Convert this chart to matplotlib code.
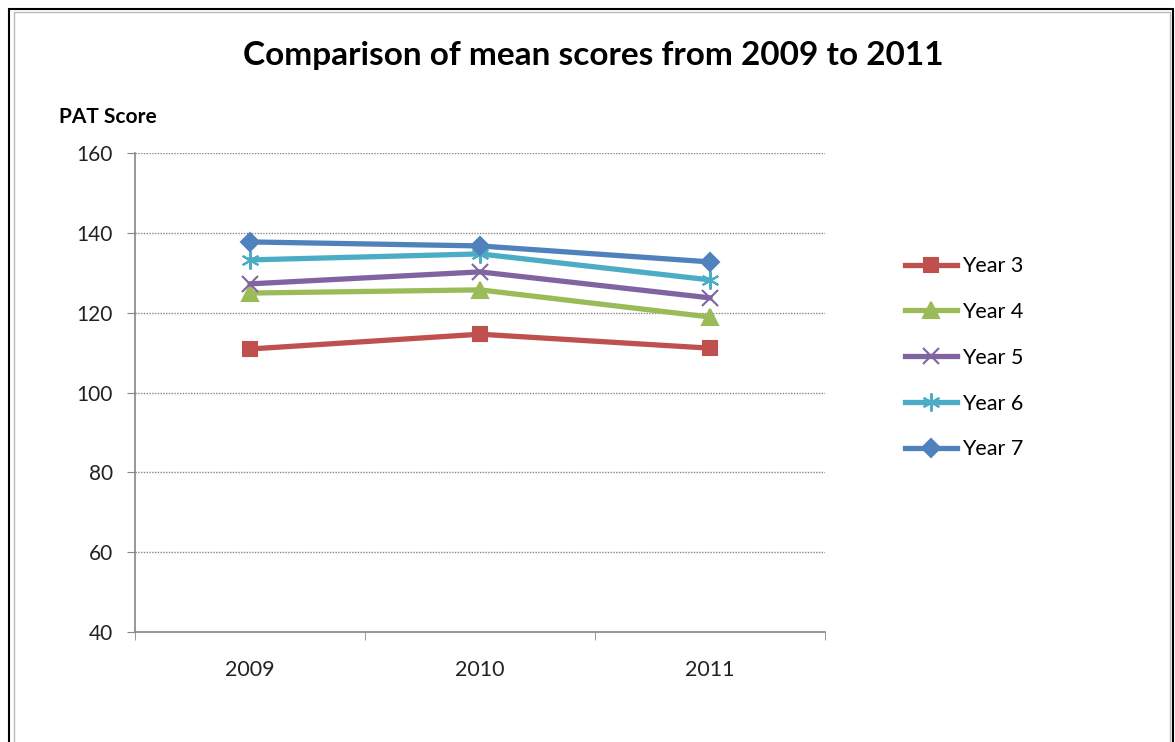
import matplotlib.pyplot as plt
from matplotlib.patches import Rectangle

plt.rcParams['font.family'] = ['Lato', 'DejaVu Sans']

years = ['2009', '2010', '2011']
year3 = [110.9, 114.6, 111.1]
year4 = [124.9, 125.7, 118.9]
year5 = [127.2, 130.2, 123.7]
year6 = [133.2, 134.7, 128.2]
year7 = [137.7, 136.7, 132.7]

series = [
    ('Year 3', year3, '#C0504D', 's', 10),
    ('Year 4', year4, '#9BBB59', '^', 11),
    ('Year 5', year5, '#8064A2', 'x', 11),
    ('Year 6', year6, '#4BACC6', (6, 2, 0), 13),
    ('Year 7', year7, '#4F81BD', 'D', 9),
]

fig = plt.figure(figsize=(11.75, 7.42), dpi=100)
ax = fig.add_axes([0.115, 0.148, 0.587, 0.646])

x = range(len(years))
for name, vals, col, mk, ms in series:
    ax.plot(x, vals, color=col, lw=3.8, marker=mk, markersize=ms,
            markeredgewidth=1.5, markeredgecolor=col, label=name)

ax.set_xlim(-0.5, 2.5)
ax.set_ylim(40, 160)
ax.set_yticks(range(40, 161, 20))
ax.set_xticks(list(x))
ax.set_xticklabels(years)
ax.set_xticks([-0.5, 0.5, 1.5, 2.5], minor=True)
ax.tick_params(axis='x', which='major', length=0, pad=20, labelsize=15.5)
ax.tick_params(axis='x', which='minor', length=6, color='#868686')
ax.tick_params(axis='y', length=6, color='#868686', labelsize=15, pad=10)
for lab in ax.get_xticklabels() + ax.get_yticklabels():
    lab.set_color('#222222')

for v in range(60, 161, 20):
    ax.axhline(v, color='#888888', lw=1, ls=(0, (1, 1)), zorder=0)

for s in ['top', 'right']:
    ax.spines[s].set_visible(False)
for s in ['left', 'bottom']:
    ax.spines[s].set_color('#868686')
    ax.spines[s].set_linewidth(1.2)

fig.text(0.505, 0.925, 'Comparison of mean scores from 2009 to 2011',
         ha='center', va='center', fontsize=24, fontweight='bold')
fig.text(0.05, 0.842, 'PAT Score', ha='left', va='center',
         fontsize=15, fontweight='bold')

ax.legend(loc='upper left', bbox_to_anchor=(0.754, 0.681),
          bbox_transform=fig.transFigure, frameon=False, fontsize=15.5,
          handlelength=2.4, handletextpad=0.25, labelspacing=1.2)

fig.add_artist(Rectangle((0.012, -0.01), 0.984, 0.994, transform=fig.transFigure,
                         fill=False, edgecolor='#bbbbbb', lw=1))
fig.add_artist(Rectangle((0.008, -0.01), 0.99, 0.998, transform=fig.transFigure,
                         fill=False, edgecolor='black', lw=1.5))

fig.savefig('out.png', dpi=100)
